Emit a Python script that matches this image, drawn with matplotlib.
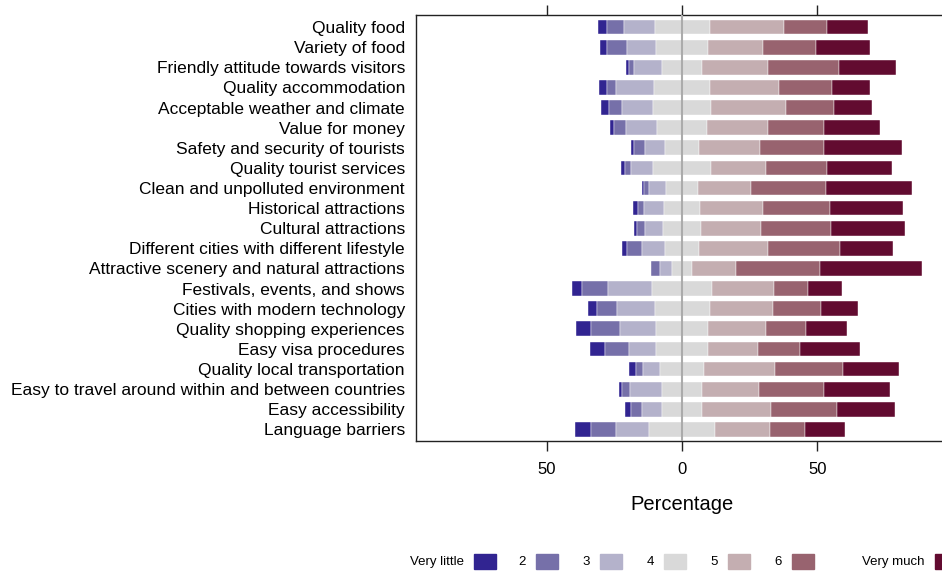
import matplotlib.pyplot as plt
import numpy as np
from matplotlib.patches import Rectangle

plt.rcParams["font.family"] = ["Liberation Sans", "DejaVu Sans"]

items = [
    "Quality food",
    "Variety of food",
    "Friendly attitude towards visitors",
    "Quality accommodation",
    "Acceptable weather and climate",
    "Value for money",
    "Safety and security of tourists",
    "Quality tourist services",
    "Clean and unpolluted environment",
    "Historical attractions",
    "Cultural attractions",
    "Different cities with different lifestyle",
    "Attractive scenery and natural attractions",
    "Festivals, events, and shows",
    "Cities with modern technology",
    "Quality shopping experiences",
    "Easy visa procedures",
    "Quality local transportation",
    "Easy to travel around within and between countries",
    "Easy accessibility",
    "Language barriers",
]

levels = ["Very little", "2", "3", "4", "5", "6", "Very much"]

# percentage of answers per level, one list per level (rows follow `items`)
very_little = [3.5, 2.7, 1.3, 2.7, 2.9, 1.5, 1.0, 1.5, 0.7, 1.7, 1.1, 1.7, 0.0, 3.8, 3.5, 5.4, 5.5, 2.4, 1.1, 2.2, 5.9]
lvl2 = [6.3, 7.2, 1.6, 3.3, 4.8, 4.4, 4.3, 2.0, 1.8, 2.4, 2.7, 5.7, 3.2, 9.6, 7.4, 10.7, 8.8, 2.8, 3.1, 4.3, 9.0]
lvl3 = [11.2, 10.7, 10.5, 14.0, 11.4, 11.7, 7.2, 8.1, 6.6, 7.4, 6.8, 8.3, 4.5, 16.1, 13.7, 13.4, 10.1, 6.3, 11.6, 7.1, 12.3]
lvl4 = [20.3, 19.5, 14.7, 21.0, 21.7, 18.3, 12.7, 21.7, 11.5, 13.2, 13.9, 12.7, 7.3, 22.2, 20.3, 19.2, 19.2, 16.1, 15.0, 15.0, 24.3]
lvl5 = [27.6, 20.3, 24.3, 25.4, 27.5, 22.5, 22.5, 20.3, 19.8, 23.4, 22.1, 25.5, 16.1, 22.8, 23.6, 21.4, 18.3, 26.4, 20.8, 25.5, 20.4]
lvl6 = [15.8, 19.5, 26.4, 19.5, 17.7, 20.8, 23.7, 22.2, 27.5, 24.8, 26.1, 26.3, 31.1, 12.6, 17.7, 14.7, 15.6, 24.9, 24.1, 24.2, 12.8]
very_much = [15.1, 20.0, 21.1, 13.9, 13.9, 20.6, 28.6, 24.1, 32.0, 26.9, 27.1, 19.7, 37.6, 12.6, 13.6, 15.3, 22.2, 20.6, 24.3, 21.5, 15.0]

colors = ["#312491", "#7670a9", "#b4b2cb", "#d9d9d9", "#c4aeb1", "#98636f", "#620b30"]

data = np.array([very_little, lvl2, lvl3, lvl4, lvl5, lvl6, very_much]).T
n = len(items)
y = np.arange(n)[::-1]

fig = plt.figure(figsize=(9.42, 5.73), dpi=100)
ax = fig.add_axes([0.4416, 0.2295, 0.5648, 0.7443])

# neutral level is split around zero
left_start = -(data[:, 0] + data[:, 1] + data[:, 2] + data[:, 3] / 2)
start = left_start.copy()
for k in range(7):
    ax.barh(y, data[:, k], left=start, height=0.73, color=colors[k],
            edgecolor="white", linewidth=0.3)
    start = start + data[:, k]

ax.axvline(0, color="#ababab", lw=1.5, zorder=5)

ax.set_xlim(-98.2, 98.2)
ax.set_ylim(-0.6, n - 0.4)
ax.set_yticks(y)
ax.set_yticklabels(items, fontsize=12.5)
ax.tick_params(axis="y", length=0, pad=8)

ticks = [-50, 0, 50]
ax.set_xticks(ticks)
ax.set_xticklabels([str(abs(t)) for t in ticks], fontsize=12)
ax.tick_params(axis="x", direction="out", length=7, width=1, pad=8,
               top=True, color="#222222")
ax.set_xlabel("Percentage", fontsize=14.5, labelpad=13)
for s in ax.spines.values():
    s.set_color("#222222")
    s.set_linewidth(1)

# legend drawn along the bottom, label to the left of each swatch
patch_px = [474, 536, 600, 664, 728, 792, 935]
W, H = 942.0, 573.0
for lab, col, px in zip(levels, colors, patch_px):
    fig.patches.append(Rectangle((px / W, 1 - 569 / H), 22 / W, 15 / H,
                                 transform=fig.transFigure, color=col))
    fig.text((px - 10) / W, 1 - 562 / H, lab, ha="right", va="center",
             fontsize=9.5)

fig.savefig("out.png", dpi=100)
